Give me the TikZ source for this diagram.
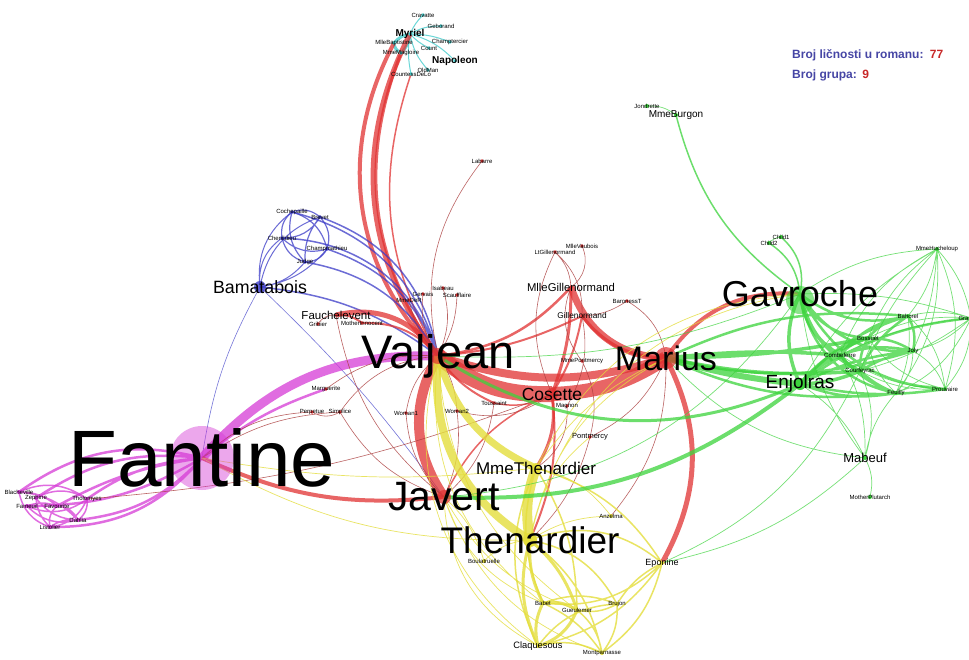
\documentclass[tikz,border=0pt]{standalone}
\usepackage{fontspec}
\setmainfont{Liberation Sans}
\usetikzlibrary{backgrounds,positioning}

\definecolor{vred}{RGB}{225,50,50}
\definecolor{vdred}{RGB}{170,60,60}
\definecolor{vyel}{RGB}{228,222,60}
\definecolor{vgrn}{RGB}{60,212,60}
\definecolor{vmag}{RGB}{214,60,214}
\definecolor{vblu}{RGB}{60,60,200}
\definecolor{vcya}{RGB}{70,205,205}
\definecolor{legblue}{RGB}{70,70,165}
\definecolor{legred}{RGB}{200,40,40}

\tikzset{
  nm/.style={inner sep=0pt, font=\fontsize{6}{6}\selectfont},
  big/.style={inner sep=0pt, font=\fontsize{#1}{#1}\selectfont},
  bold/.style={inner sep=0pt, font=\fontsize{#1}{#1}\selectfont\bfseries},
  legtxt/.style={inner sep=0pt, text=legblue, font=\fontsize{12}{12}\selectfont\bfseries},
  legnum/.style={inner sep=0pt, text=legred, font=\fontsize{12}{12}\selectfont\bfseries},
  redln/.style={draw=vred, line width=#1, opacity=.75},
  yelln/.style={draw=vyel, line width=#1, opacity=.8},
  grnln/.style={draw=vgrn, line width=#1, opacity=.75},
  magln/.style={draw=vmag, line width=#1, opacity=.75},
  bluln/.style={draw=vblu, line width=#1, opacity=.75},
  cyaln/.style={draw=vcya, line width=#1, opacity=.8},
  thred/.style={draw=vdred, line width=.6pt, opacity=.8},
  yelthin/.style={draw=vyel, line width=.7pt, opacity=.8},
  grnthin/.style={draw=vgrn, line width=.7pt, opacity=.7},
  bluthin/.style={draw=vblu, line width=.6pt, opacity=.7}
}

\begin{document}
\begin{tikzpicture}[x=1pt, y=-1pt]
  \useasboundingbox (0,0) rectangle (969,659);
  \clip (0,0) rectangle (969,659);

  % Myriel group
  \node[bold=10] (myriel) at (410,34) {Myriel};
  \node[bold=10] (napoleon) at (455,61) {Napoleon};
  \node[nm] (cravatte) at (423,15) {Cravatte};
  \node[nm] (geborand) at (441,26) {Geborand};
  \node[nm] (champtercier) at (450,42) {Champtercier};
  \node[nm] (count) at (429,48) {Count};
  \node[nm] (mllebaptistine) at (394,43) {MlleBaptistine};
  \node[nm] (mmemagloire) at (401,53) {MmeMagloire};
  \node[nm] (oldman) at (428,70) {OldMan};
  \node[nm] (countessdelo) at (411,74) {CountessDeLo};

  % trial group
  \node[nm] (cochepaille) at (292,212) {Cochepaille};
  \node[nm] (brevet) at (320,217) {Brevet};
  \node[nm] (chenildieu) at (282,238) {Chenildieu};
  \node[nm] (champmathieu) at (327,249) {Champmathieu};
  \node[nm] (judge) at (305,262) {Judge};
  \node[big=17.8] (bamatabois) at (260,287) {Bamatabois};

  % Fantine group
  \node[big=80] (fantine) at (202,458) {Fantine};
  \node[nm] (blacheville) at (19,492) {Blacheville};
  \node[nm] (zephine) at (36,498) {Zephine};
  \node[nm] (fameuil) at (27,506) {Fameuil};
  \node[nm] (favourite) at (57,506) {Favourite};
  \node[nm] (tholomyes) at (87,499) {Tholomyes};
  \node[nm] (dahlia) at (78,520) {Dahlia};
  \node[nm] (listolier) at (50,527) {Listolier};

  % Valjean group
  \node[big=47] (valjean) at (438,356) {Valjean};
  \node[nm] (labarre) at (482,161) {Labarre};
  \node[nm] (isabeau) at (443,288) {Isabeau};
  \node[nm] (gervais) at (423,294) {Gervais};
  \node[nm] (scaufflaire) at (457,295) {Scaufflaire};
  \node[nm] (mmeder) at (409,300) {MmeDeR};
  \node[big=11.5] (fauchelevent) at (336,315) {Fauchelevent};
  \node[nm] (gribier) at (318,324) {Gribier};
  \node[nm] (motherinnocent) at (362,323) {MotherInnocent};
  \node[nm] (marguerite) at (326,389) {Marguerite};
  \node[nm] (perpetue) at (312,412) {Perpetue};
  \node[nm] (simplice) at (340,412) {Simplice};
  \node[nm] (woman1) at (406,413) {Woman1};
  \node[nm] (woman2) at (457,411) {Woman2};
  \node[nm] (toussaint) at (494,403) {Toussaint};
  \node[big=17.5] (cosette) at (552,394) {Cosette};
  \node[nm] (magnon) at (567,406) {Magnon};
  \node[big=34] (marius) at (666,358) {Marius};
  \node[nm] (ltgillenormand) at (555,252) {LtGillenormand};
  \node[nm] (mllevaubois) at (582,246) {MlleVaubois};
  \node[big=11.3] (mllegillenormand) at (571,287) {MlleGillenormand};
  \node[big=8.3] (gillenormand) at (582,316) {Gillenormand};
  \node[nm] (baronesst) at (627,301) {BaronessT};
  \node[nm] (mmepontmercy) at (582,361) {MmePontmercy};
  \node[big=7.5] (pontmercy) at (590,437) {Pontmercy};
  \node[big=41] (javert) at (444,497) {Javert};

  % Thenardier group
  \node[big=17] (mmethenardier) at (536,468) {MmeThenardier};
  \node[big=37] (thenardier) at (530,540) {Thenardier};
  \node[nm] (anzelma) at (611,516) {Anzelma};
  \node[nm] (boulatruelle) at (484,561) {Boulatruelle};
  \node[big=9] (eponine) at (662,563) {Eponine};
  \node[nm] (babet) at (543,603) {Babet};
  \node[nm] (gueulemer) at (577,610) {Gueulemer};
  \node[nm] (brujon) at (617,604) {Brujon};
  \node[big=9.3] (claquesous) at (538,646) {Claquesous};
  \node[nm] (montparnasse) at (602,653) {Montparnasse};

  % barricade group
  \node[nm] (jondrette) at (647,106) {Jondrette};
  \node[big=10] (mmeburgon) at (676,115) {MmeBurgon};
  \node[nm] (child1) at (781,237) {Child1};
  \node[nm] (child2) at (769,243) {Child2};
  \node[big=36] (gavroche) at (800,294) {Gavroche};
  \node[nm] (mmehucheloup) at (937,249) {MmeHucheloup};
  \node[nm] (bahorel) at (908,316) {Bahorel};
  \node[nm] (grantaire) at (971,318) {Grantaire};
  \node[nm] (bossuet) at (868,338) {Bossuet};
  \node[nm] (joly) at (913,351) {Joly};
  \node[nm] (combeferre) at (840,355) {Combeferre};
  \node[nm] (courfeyrac) at (860,371) {Courfeyrac};
  \node[big=19] (enjolras) at (800,384) {Enjolras};
  \node[nm] (feuilly) at (896,393) {Feuilly};
  \node[nm] (prouvaire) at (945,389) {Prouvaire};
  \node[big=13] (mabeuf) at (865,458) {Mabeuf};
  \node[nm] (motherplutarch) at (870,497) {MotherPlutarch};

  % legend
  \node[legtxt, anchor=base west] (cnt) at (792,58) {Broj ličnosti u romanu:};
  \node[legnum, anchor=base west] (cntnum) at ([xshift=6pt]cnt.base east) {77};
  \node[legtxt, anchor=base west] (grp) at (792,78) {Broj grupa:};
  \node[legnum, anchor=base west] (grpnum) at ([xshift=5pt]grp.base east) {9};

  \begin{scope}[on background layer]
    \fill[white] (0,0) rectangle (969,659);

    % Myriel
    \draw[cyaln=1pt] (myriel.center) to[bend left=15] (napoleon.center) (myriel.center) to[bend left=10] (cravatte.center)
      (myriel.center) to[bend left=15] (geborand.center) (myriel.center) to[bend left=10] (champtercier.center)
      (myriel.center) to[bend right=10] (count.center) (myriel.center) to[bend right=15] (oldman.center)
      (myriel.center) to[bend right=10] (countessdelo.center);
    \draw[cyaln=3pt] (myriel.center) to[bend right=20] (mllebaptistine.center) (myriel.center) to[bend left=20] (mmemagloire.center)
      (mllebaptistine.center) to[bend right=30] (mmemagloire.center);
    \draw[redln=5pt] (valjean.center) to[bend left=32] (myriel.center);
    \draw[redln=4pt] (valjean.center) to[bend left=36] (mllebaptistine.center);
    \draw[redln=3pt] (valjean.center) to[bend left=28] (mmemagloire.center);
    \draw[redln=1.5pt] (valjean.center) to[bend left=24] (countessdelo.center);

    % trial
    \draw[bluln=1.5pt] (cochepaille.center) to[bend left=30] (valjean.center) (brevet.center) to[bend left=30] (valjean.center)
      (chenildieu.center) to[bend left=35] (valjean.center) (champmathieu.center) to[bend left=25] (valjean.center)
      (judge.center) to[bend left=25] (valjean.center) (bamatabois.center) to[bend left=15] (valjean.center);
    \draw[bluln=1.2pt] (cochepaille.center) to[bend left=30] (brevet.center) (cochepaille.center) to[bend right=30] (chenildieu.center)
      (cochepaille.center) to[bend left=30] (champmathieu.center) (cochepaille.center) to[bend right=30] (judge.center)
      (brevet.center) to[bend left=30] (chenildieu.center) (brevet.center) to[bend left=30] (champmathieu.center)
      (brevet.center) to[bend right=20] (judge.center) (chenildieu.center) to[bend right=30] (champmathieu.center)
      (chenildieu.center) to[bend right=30] (judge.center) (champmathieu.center) to[bend left=30] (judge.center);
    \draw[bluln=1pt] (cochepaille.center) to[bend right=30] (bamatabois.center) (brevet.center) to[bend right=30] (bamatabois.center)
      (chenildieu.center) to[bend right=30] (bamatabois.center) (champmathieu.center) to[bend left=20] (bamatabois.center)
      (judge.center) to[bend left=20] (bamatabois.center);
    \draw[bluthin] (bamatabois.center) to[bend right=10] (fantine.center) (bamatabois.center) to[bend left=5] (javert.center);

    % Fantine
    \draw[magln=9pt] (fantine.center) to[bend left=25] (valjean.center);
    \draw[magln=2.5pt] (fantine.center) to[bend left=10] (marguerite.center);
    \draw[magln=2.5pt] (tholomyes.center) to[bend left=15] (fantine.center) (blacheville.center) to[bend left=25] (fantine.center)
      (zephine.center) to[bend left=20] (fantine.center) (fameuil.center) to[bend right=15] (fantine.center)
      (favourite.center) to[bend left=10] (fantine.center) (dahlia.center) to[bend right=20] (fantine.center)
      (listolier.center) to[bend right=25] (fantine.center);
    \draw[magln=1.5pt] (blacheville.center) to[bend left=30] (tholomyes.center) (blacheville.center) to[bend right=30] (listolier.center)
      (blacheville.center) to[bend left=20] (dahlia.center) (zephine.center) to[bend left=30] (tholomyes.center)
      (zephine.center) to[bend right=25] (dahlia.center) (fameuil.center) to[bend right=30] (tholomyes.center)
      (fameuil.center) to[bend right=30] (dahlia.center) (favourite.center) to[bend left=30] (dahlia.center)
      (favourite.center) to[bend right=30] (listolier.center) (listolier.center) to[bend right=30] (tholomyes.center)
      (listolier.center) to[bend left=20] (dahlia.center) (blacheville.center) to[bend left=20] (favourite.center)
      (zephine.center) to[bend right=20] (listolier.center) (fameuil.center) to[bend left=20] (favourite.center)
      (tholomyes.center) to[bend left=30] (dahlia.center);

    % Valjean and the red group
    \draw[redln=10pt] (valjean.center) to[bend right=32] (javert.center);
    \draw[redln=16pt] (valjean.center) to[bend right=20] (cosette.center);
    \draw[redln=14pt] (cosette.center) to[bend right=15] (marius.center);
    \draw[redln=8pt] (valjean.center) to[bend right=18] (marius.center);
    \draw[redln=4pt] (marius.center) to[bend left=30] (gavroche.center);
    \draw[redln=7pt] (mllegillenormand.center) to[bend right=35] (marius.center);
    \draw[redln=3pt] (gillenormand.center) to[bend right=25] (marius.center);
    \draw[redln=2.5pt] (mllegillenormand.center) to[bend left=20] (valjean.center);
    \draw[redln=2pt] (gillenormand.center) to[bend left=10] (valjean.center);
    \draw[redln=3pt] (mllegillenormand.center) to[bend left=10] (cosette.center);
    \draw[redln=2pt] (gillenormand.center) to[bend left=10] (cosette.center);
    \draw[redln=5pt] (fauchelevent.center) to[bend left=35] (valjean.center);
    \draw[redln=2pt] (fauchelevent.center) to[bend left=20] (motherinnocent.center) (motherinnocent.center) to[bend left=25] (valjean.center);
    \draw[redln=5pt] (marius.center) to[bend left=28] (eponine.center);
    \draw[redln=4pt] (fantine.center) to[bend right=15] (javert.center);
    \draw[redln=3pt] (mmethenardier.center) to[bend right=20] (cosette.center);
    \draw[redln=2pt] (thenardier.center) to[bend right=15] (cosette.center) (toussaint.center) to[bend left=15] (valjean.center);
    \draw[redln=1.5pt] (javert.center) to[bend left=20] (cosette.center) (toussaint.center) to[bend right=20] (cosette.center);
    \draw[thred] (labarre.center) to[bend right=25] (valjean.center)
      (ltgillenormand.center) to[bend left=20] (mllegillenormand.center) (ltgillenormand.center) to[bend left=25] (gillenormand.center)
      (ltgillenormand.center) to[bend right=25] (cosette.center) (mllevaubois.center) to[bend left=40] (mllegillenormand.center)
      (baronesst.center) to[bend left=15] (gillenormand.center) (baronesst.center) to[bend left=25] (marius.center)
      (mmepontmercy.center) to[bend left=20] (pontmercy.center) (pontmercy.center) to[bend right=20] (marius.center)
      (pontmercy.center) to[bend left=15] (thenardier.center) (magnon.center) to[bend left=30] (mmethenardier.center)
      (magnon.center) to[bend right=20] (gillenormand.center) (toussaint.center) to[bend left=20] (javert.center)
      (woman1.center) to[bend left=20] (valjean.center) (woman1.center) to[bend right=20] (javert.center)
      (woman2.center) to[bend right=15] (valjean.center) (woman2.center) to[bend left=15] (javert.center)
      (woman2.center) to[bend right=25] (cosette.center) (gervais.center) to[bend right=20] (valjean.center)
      (isabeau.center) to[bend left=20] (valjean.center) (scaufflaire.center) to[bend left=15] (valjean.center)
      (mmeder.center) to[bend right=15] (valjean.center) (marguerite.center) to[bend left=20] (valjean.center)
      (simplice.center) to[bend left=25] (valjean.center) (simplice.center) to[bend left=30] (perpetue.center)
      (simplice.center) to[bend right=20] (javert.center) (simplice.center) to[bend right=15] (fantine.center)
      (perpetue.center) to[bend right=20] (fantine.center) (fauchelevent.center) to[bend right=30] (gribier.center)
      (fauchelevent.center) to[bend right=20] (javert.center) (tholomyes.center) to[bend right=8] (cosette.center)
      (mllegillenormand.center) to[bend right=30] (mmepontmercy.center) (anzelma.center) to[bend right=20] (marius.center);

    % Thenardier
    \draw[yelln=8pt] (valjean.center) to[bend right=32] (thenardier.center);
    \draw[yelln=7pt] (valjean.center) to[bend right=25] (mmethenardier.center);
    \draw[yelln=10pt] (mmethenardier.center) to[bend right=15] (thenardier.center);
    \draw[yelln=3pt] (thenardier.center) to[bend right=15] (babet.center) (thenardier.center) to[bend left=15] (gueulemer.center)
      (thenardier.center) to[bend right=20] (claquesous.center) (babet.center) to[bend left=20] (gueulemer.center)
      (babet.center) to[bend right=20] (claquesous.center) (gueulemer.center) to[bend left=25] (claquesous.center);
    \draw[yelln=1.5pt] (thenardier.center) to[bend left=20] (montparnasse.center) (thenardier.center) to[bend left=25] (brujon.center)
      (mmethenardier.center) to[bend right=20] (babet.center) (mmethenardier.center) to[bend right=25] (claquesous.center)
      (mmethenardier.center) to[bend left=15] (gueulemer.center) (thenardier.center) to[bend left=30] (eponine.center)
      (mmethenardier.center) to[bend left=20] (eponine.center) (babet.center) to[bend left=20] (brujon.center)
      (gueulemer.center) to[bend right=20] (brujon.center) (claquesous.center) to[bend left=20] (montparnasse.center)
      (babet.center) to[bend left=15] (montparnasse.center) (gueulemer.center) to[bend left=20] (montparnasse.center)
      (brujon.center) to[bend left=20] (montparnasse.center) (brujon.center) to[bend right=25] (claquesous.center)
      (eponine.center) to[bend left=20] (montparnasse.center) (eponine.center) to[bend right=15] (brujon.center)
      (eponine.center) to[bend left=25] (babet.center) (eponine.center) to[bend left=20] (claquesous.center);
    \draw[yelthin] (thenardier.center) to[bend right=20] (boulatruelle.center) (thenardier.center) to[bend left=15] (anzelma.center)
      (mmethenardier.center) to[bend left=20] (anzelma.center) (javert.center) to[bend right=25] (babet.center)
      (javert.center) to[bend right=30] (claquesous.center) (javert.center) to[bend right=20] (gueulemer.center)
      (javert.center) to[bend right=25] (montparnasse.center) (valjean.center) to[bend right=35] (claquesous.center)
      (valjean.center) to[bend right=30] (babet.center) (valjean.center) to[bend right=25] (gueulemer.center)
      (fantine.center) to[bend right=15] (thenardier.center) (fantine.center) to[bend right=8] (mmethenardier.center)
      (thenardier.center) to[bend left=35] (gavroche.center) (mmethenardier.center) to[bend left=30] (gavroche.center)
      (thenardier.center) to[bend left=25] (marius.center) (mmethenardier.center) to[bend left=15] (marius.center)
      (thenardier.center) to[bend left=20] (pontmercy.center) (boulatruelle.center) to[bend right=15] (javert.center);

    % barricade
    \draw[grnln=6pt] (marius.center) to[bend right=5] (enjolras.center);
    \draw[grnln=4pt] (javert.center) to[bend right=20] (enjolras.center);
    \draw[grnln=3pt] (valjean.center) to[bend right=28] (enjolras.center);
    \draw[grnln=3.5pt] (marius.center) to[bend right=8] (courfeyrac.center) (marius.center) to[bend left=5] (combeferre.center)
      (marius.center) to[bend right=5] (bossuet.center) (gavroche.center) to[bend right=25] (enjolras.center)
      (gavroche.center) to[bend right=25] (courfeyrac.center) (gavroche.center) to[bend right=25] (combeferre.center)
      (enjolras.center) to[bend left=10] (combeferre.center) (enjolras.center) to[bend right=10] (courfeyrac.center)
      (enjolras.center) to[bend left=15] (bossuet.center) (combeferre.center) to[bend right=15] (courfeyrac.center);
    \draw[grnln=2.5pt] (gavroche.center) to[bend right=30] (bossuet.center) (gavroche.center) to[bend right=30] (joly.center)
      (gavroche.center) to[bend right=25] (bahorel.center) (gavroche.center) to[bend right=35] (feuilly.center)
      (gavroche.center) to[bend right=30] (prouvaire.center) (enjolras.center) to[bend left=10] (joly.center)
      (enjolras.center) to[bend left=15] (bahorel.center) (enjolras.center) to[bend right=15] (feuilly.center)
      (enjolras.center) to[bend right=10] (prouvaire.center) (enjolras.center) to[bend left=15] (grantaire.center)
      (combeferre.center) to[bend left=15] (bossuet.center) (combeferre.center) to[bend left=15] (joly.center)
      (combeferre.center) to[bend left=20] (bahorel.center) (combeferre.center) to[bend right=15] (feuilly.center)
      (courfeyrac.center) to[bend left=15] (bossuet.center) (courfeyrac.center) to[bend left=10] (joly.center)
      (courfeyrac.center) to[bend left=15] (bahorel.center) (courfeyrac.center) to[bend right=10] (feuilly.center)
      (bossuet.center) to[bend left=15] (joly.center) (bossuet.center) to[bend left=20] (bahorel.center)
      (joly.center) to[bend right=20] (bahorel.center) (marius.center) to[bend right=15] (joly.center)
      (marius.center) to[bend right=15] (feuilly.center) (marius.center) to[bend left=15] (bahorel.center);
    \draw[grnln=1.5pt] (mmeburgon.center) to[bend right=20] (gavroche.center) (child1.center) to[bend left=30] (gavroche.center)
      (child2.center) to[bend left=25] (gavroche.center);
    \draw[grnthin] (gavroche.center) to[bend left=10] (grantaire.center) (gavroche.center) to[bend left=15] (mmehucheloup.center)
      (gavroche.center) to[bend right=15] (mabeuf.center) (child1.center) to[bend right=20] (child2.center)
      (jondrette.center) to[bend left=20] (mmeburgon.center) (mmehucheloup.center) to[bend left=15] (bahorel.center)
      (mmehucheloup.center) to[bend left=10] (joly.center) (mmehucheloup.center) to[bend right=15] (bossuet.center)
      (mmehucheloup.center) to[bend right=10] (courfeyrac.center) (mmehucheloup.center) to[bend left=20] (feuilly.center)
      (mmehucheloup.center) to[bend left=20] (prouvaire.center) (mmehucheloup.center) to[bend left=15] (grantaire.center)
      (mmehucheloup.center) to[bend right=15] (enjolras.center) (mmehucheloup.center) to[bend right=20] (combeferre.center)
      (grantaire.center) to[bend right=15] (bahorel.center) (grantaire.center) to[bend left=15] (joly.center)
      (grantaire.center) to[bend right=15] (bossuet.center) (grantaire.center) to[bend left=10] (courfeyrac.center)
      (grantaire.center) to[bend right=10] (combeferre.center) (grantaire.center) to[bend left=20] (feuilly.center)
      (grantaire.center) to[bend left=20] (prouvaire.center) (prouvaire.center) to[bend right=20] (feuilly.center)
      (prouvaire.center) to[bend right=20] (joly.center) (prouvaire.center) to[bend right=20] (bahorel.center)
      (prouvaire.center) to[bend left=20] (bossuet.center) (prouvaire.center) to[bend left=15] (courfeyrac.center)
      (prouvaire.center) to[bend left=15] (combeferre.center) (feuilly.center) to[bend right=20] (joly.center)
      (feuilly.center) to[bend right=15] (bahorel.center) (feuilly.center) to[bend left=20] (bossuet.center)
      (mabeuf.center) to[bend right=15] (enjolras.center) (mabeuf.center) to[bend left=20] (marius.center)
      (mabeuf.center) to[bend right=20] (courfeyrac.center) (mabeuf.center) to[bend left=15] (feuilly.center)
      (mabeuf.center) to[bend right=15] (combeferre.center) (mabeuf.center) to[bend left=20] (motherplutarch.center)
      (mabeuf.center) to[bend left=15] (eponine.center) (eponine.center) to[bend right=20] (courfeyrac.center)
      (javert.center) to[bend right=25] (gavroche.center) (valjean.center) to[bend right=12] (gavroche.center);

    % node dots
    \fill[vmag, opacity=.45] (fantine.center) circle (32);
    \fill[vred, opacity=.7] (marius.center) circle (11);
    \fill[vgrn, opacity=.6] ([yshift=-6]gavroche.center) circle (14);
    \fill[vblu, opacity=.8] (bamatabois.center) circle (6);
    \fill[vred, opacity=.7] (valjean.center) circle (8);
    \fill[vred, opacity=.7] (javert.center) circle (7);
    \fill[vyel] (thenardier.center) circle (7);
    \fill[vyel] (mmethenardier.center) circle (5);
    \fill[vred, opacity=.7] (cosette.center) circle (6);
    \fill[vgrn] (enjolras.center) circle (6);
    \foreach \n in {myriel,napoleon,cravatte,geborand,champtercier,count,mllebaptistine,mmemagloire,oldman,countessdelo}
      \fill[vcya] (\n.center) circle (1.8);
    \foreach \n in {cochepaille,brevet,chenildieu,champmathieu,judge}
      \fill[vblu] (\n.center) circle (1.8);
    \foreach \n in {blacheville,zephine,fameuil,favourite,tholomyes,dahlia,listolier}
      \fill[vmag] (\n.center) circle (2);
    \foreach \n in {labarre,isabeau,gervais,scaufflaire,mmeder,fauchelevent,gribier,motherinnocent,marguerite,perpetue,simplice,woman1,woman2,toussaint,magnon,ltgillenormand,mllevaubois,mllegillenormand,gillenormand,baronesst,mmepontmercy,pontmercy}
      \fill[vred] (\n.center) circle (1.8);
    \foreach \n in {anzelma,boulatruelle,eponine,babet,gueulemer,brujon,claquesous,montparnasse}
      \fill[vyel] (\n.center) circle (2);
    \foreach \n in {jondrette,mmeburgon,child1,child2,mmehucheloup,bahorel,grantaire,bossuet,joly,combeferre,courfeyrac,feuilly,prouvaire,mabeuf,motherplutarch}
      \fill[vgrn] (\n.center) circle (2);
  \end{scope}
\end{tikzpicture}
\end{document}
